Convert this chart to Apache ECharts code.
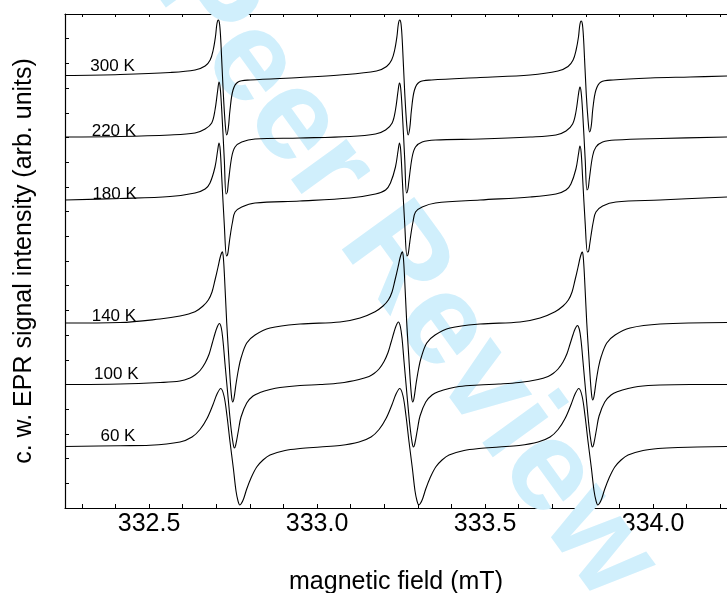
<!DOCTYPE html>
<html><head><meta charset="utf-8">
<script src="https://cdn.jsdelivr.net/npm/echarts@6/dist/echarts.min.js"></script>
<style>html,body{margin:0;padding:0;background:#fff}#c{width:727px;height:593px}</style>
</head><body><div id="c"></div>
<script>
// ---- data (magnetic field in mT, EPR signal in arbitrary units, traces stacked with offsets) ----
const temperatures = ['300 K', '220 K', '180 K', '140 K', '100 K', '60 K'];
const majorTicks = [332.5, 333.0, 333.5, 334.0];
const minorTicks = [332.3,332.4,332.5,332.6,332.7,332.8,332.9,333.0,333.1,333.2,333.3,333.4,333.5,333.6,333.7,333.8,333.9,334.0,334.1,334.2];

const trace300K = [[332.250,432.5],[332.414,433.5],[332.563,435.5],[332.637,438],[332.667,442],[332.682,448],[332.691,458],[332.698,472],[332.702,484],[332.706,488],[332.710,484],[332.714,465],[332.721,415],[332.727,383],[332.731,373],[332.736,380],[332.741,398],[332.750,418],[332.765,426],[332.801,428],[332.949,430.5],[333.068,433],[333.177,437],
 [333.207,441.5],[333.222,448],[333.231,458],[333.238,472],[333.242,484],[333.246,488],[333.250,484],[333.254,465],[333.261,415],[333.267,383],[333.271,373],[333.276,380],[333.281,398],[333.290,418],[333.305,426],[333.341,428],[333.485,430.5],[333.634,433],[333.717,437],
 [333.747,441.5],[333.762,448],[333.771,458],[333.778,471],[333.782,483],[333.786,487],[333.790,483],[333.794,464],[333.801,415],[333.807,386],[333.811,376],[333.816,382],[333.821,400],[333.830,418],[333.845,426],[333.881,428],[333.991,430],[334.110,431],[334.220,432]];

const trace220K = [[332.250,371],[332.414,371.5],[332.5625,373],[332.637,375],[332.667,379],[332.6866,385],[332.6964,398],[332.7045,418],[332.7083,426],[332.7119,420],[332.7164,398],[332.7241,348],[332.7292,314],[332.7330,316],[332.7360,325],[332.7461,351],[332.7560,361],[332.7759,366],[332.8155,369],[332.949,370],[333.098,371.5],
 [333.174,374],[333.204,378],[333.2236,385],[333.2334,398],[333.2415,418],[333.2453,425],[333.2489,420],[333.2534,398],[333.2611,348],[333.2662,315],[333.2700,318],[333.2730,326],[333.2831,351],[333.2930,361],[333.3129,366],[333.3525,368],[333.485,369],[333.634,371],
 [333.711,373],[333.741,377],[333.7606,384],[333.7704,396],[333.7785,415],[333.7823,421],[333.7859,416],[333.7904,396],[333.7981,348],[333.8032,318],[333.8070,320],[333.8100,328],[333.8201,352],[333.8300,361],[333.8499,366],[333.8895,368],[334.021,369.5],[334.220,371]];

const trace180K = [[332.250,308],[332.414,309.5],[332.5625,311.5],[332.637,315],[332.667,319],[332.6815,325],[332.6964,341],[332.7045,358],[332.7083,365],[332.7119,358],[332.7164,331],[332.7241,283],[332.7307,252],[332.7342,254],[332.7372,261],[332.7411,271],[332.7485,286],[332.7560,296],[332.7759,301],[332.8155,305],[332.949,307],[333.098,310],
 [333.174,314],[333.204,318],[333.2185,325],[333.2334,341],[333.2415,358],[333.2453,365],[333.2489,358],[333.2534,331],[333.2611,283],[333.2677,252],[333.2712,254],[333.2742,261],[333.2781,271],[333.2855,286],[333.2930,296],[333.3129,301],[333.3525,305],[333.485,308],[333.634,311],
 [333.711,314],[333.741,318],[333.7555,324],[333.7704,339],[333.7785,355],[333.7823,362],[333.7859,356],[333.7904,330],[333.7981,284],[333.8047,256],[333.8082,257],[333.8112,263],[333.8151,272],[333.8225,287],[333.8300,296],[333.8499,302],[333.8895,306],[334.021,308],[334.220,311]];

const trace140K = [[332.250,185],[332.414,185.5],[332.5327,189],[332.5923,192],[332.6369,196.3],[332.6607,202],[332.6765,208],[332.6875,216],[332.6964,228],[332.7054,241],[332.7113,250],[332.7158,255],[332.7182,256.3],[332.7208,252],[332.7241,235],[332.7313,185],[332.7372,152],[332.7420,126],[332.7461,110],[332.7491,106],[332.7530,110],[332.7589,124],[332.7664,139],[332.7738,150],[332.7908,165],[332.8155,173],[332.8601,180],[332.9494,184],[333.0685,186],
 [333.1280,190],[333.1726,196.3],[333.1964,202],[333.2122,208],[333.2232,216],[333.2321,228],[333.2411,241],[333.2470,250],[333.2515,255],[333.2539,256.3],[333.2565,252],[333.2598,235],[333.2670,185],[333.2729,152],[333.2777,126],[333.2818,110],[333.2848,106],[333.2887,110],[333.2946,124],[333.3021,139],[333.3095,150],[333.3265,165],[333.3512,173],[333.3958,180],[333.4851,184],[333.6042,186],
 [333.6637,190],[333.7083,196.3],[333.7321,202],[333.7479,208],[333.7589,216],[333.7678,228],[333.7768,241],[333.7827,250],[333.7872,255],[333.7896,256],[333.7922,251],[333.7955,234],[333.8027,185],[333.8086,153],[333.8134,128],[333.8175,112],[333.8205,108],[333.8244,112],[333.8303,126],[333.8378,141],[333.8452,151],[333.8622,165],[333.8869,173],[333.9315,180],[334.0208,184],[334.220,185.5]];

const trace100K = [[332.250,123.5],[332.414,124],[332.533,125.5],[332.592,127],[332.622,130],[332.637,133],[332.652,137.5],[332.667,145],[332.679,154],[332.6875,164],[332.6964,174.5],[332.7024,180.5],[332.7092,184.5],[332.7152,180],[332.7202,167],[332.7262,144],[332.7360,108],[332.7440,80],[332.7500,65],[332.7539,60],[332.7580,63],[332.7658,77],[332.7738,91],[332.7908,105],[332.8095,112],[332.8304,115.5],[332.8601,118.5],[332.8899,120.5],[332.9494,122.5],[333.0089,123.5],[333.0685,125],
 [333.1250,128.5],[333.1548,131.5],[333.1696,134.5],[333.1845,139],[333.1994,146.5],[333.2113,155.5],[333.2202,165.5],[333.2292,176],[333.2351,182],[333.2420,186],[333.2479,181.5],[333.2530,169.5],[333.2589,146.5],[333.2688,109],[333.2768,81],[333.2827,66],[333.2866,61],[333.2908,64],[333.2985,78],[333.3065,92],[333.3235,106],[333.3423,113],[333.3631,116.5],[333.3929,119.5],[333.4226,121.5],[333.4821,123],[333.5417,124],[333.6012,125.5],
 [333.6577,128.5],[333.6875,131.5],[333.7024,134.5],[333.7173,139],[333.7321,146],[333.7440,154.5],[333.7530,164],[333.7619,173.5],[333.7679,179],[333.7747,182.5],[333.7807,178.5],[333.7857,167.5],[333.7917,145.5],[333.8015,109],[333.8095,81],[333.8155,66],[333.8193,61],[333.8235,64],[333.8313,78],[333.8393,92],[333.8562,106],[333.8750,113],[333.8958,116.5],[333.9256,119.5],[333.9554,121.5],[334.0208,123],[334.1101,123.5],[334.220,123.5]];

const trace60K = [[332.250,61.5],[332.414,62.3],[332.503,62.8],[332.5923,66],[332.6280,71],[332.6518,78.5],[332.6726,89.5],[332.6905,103.5],[332.7024,114],[332.7134,119.5],[332.7232,112],[332.7321,92],[332.7411,66],[332.7509,40],[332.7589,17],[332.7649,7],[332.7702,3],[332.7747,4.5],[332.7813,9],[332.7908,19],[332.8036,30],[332.8205,41],[332.8393,48],[332.8601,53],[332.9048,57.5],[332.9494,59.5],[333.0089,61],[333.0685,62.5],
 [333.1250,66],[333.1607,71],[333.1845,78.5],[333.2053,89.5],[333.2232,103.5],[333.2351,114],[333.2461,119.5],[333.2559,112],[333.2648,92],[333.2738,66],[333.2836,40],[333.2916,17],[333.2976,7],[333.3029,3],[333.3074,4.5],[333.3140,9],[333.3235,19],[333.3363,30],[333.3532,41],[333.3720,48],[333.3928,53],[333.4375,57.5],[333.4821,59.5],[333.5416,61],[333.6012,62.5],
 [333.6578,66],[333.6935,71],[333.7173,78.5],[333.7381,89.5],[333.7560,103.5],[333.7679,114],[333.7789,119.5],[333.7887,112],[333.7976,92],[333.8066,66],[333.8164,40],[333.8244,17],[333.8304,7],[333.8357,3],[333.8402,4.5],[333.8468,9],[333.8563,19],[333.8691,30],[333.8860,41],[333.9048,48],[333.9256,53],[333.9703,57.5],[334.0149,59.5],[334.0744,60.5],[334.220,61.5]];

// ---- layout / style ----
const FONT = '"Liberation Sans", Arial, Helvetica, sans-serif';
const traces = [trace300K, trace220K, trace180K, trace140K, trace100K, trace60K];
const labelLayout = [
  {field: 332.324, rise: 9.5},
  {field: 332.328, rise: 5.5},
  {field: 332.330, rise: 5.5},
  {field: 332.328, rise: 7},
  {field: 332.335, rise: 10},
  {field: 332.354, rise: 10.5}
];

const chart = echarts.init(document.getElementById('c'), null, {renderer: 'canvas'});

const series = traces.map((d, i) => ({
  type: 'line',
  name: temperatures[i],
  data: d,
  symbol: 'none',
  showSymbol: false,
  smooth: 0.35,
  lineStyle: {color: '#000', width: 1.1},
  animation: false,
  z: 3,
  markPoint: {
    symbol: 'circle',
    symbolSize: 1,
    silent: true,
    animation: false,
    itemStyle: {color: 'rgba(0,0,0,0)'},
    data: [{coord: [labelLayout[i].field, d[0][1] + labelLayout[i].rise]}],
    label: {show: true, position: 'right', distance: 0, formatter: temperatures[i],
            color: '#000', fontSize: 17, fontFamily: FONT}
  }
}));

const axisLineStyle = {color: '#000', width: 1.2};

chart.setOption({
  backgroundColor: '#fff',
  animation: false,
  grid: {left: 65, top: 14, right: 0, bottom: 85, containLabel: false, outerBoundsMode: 'none'},
  graphic: [{
    type: 'text',
    x: 404, y: 274,
    rotation: -54 * Math.PI / 180,
    z: 1,
    silent: true,
    style: {
      text: 'Peer Review',
      fontSize: 130,
      fontWeight: 'bold',
      fontFamily: FONT,
      fill: '#d0effc',
      align: 'center',
      verticalAlign: 'middle'
    }
  }],
  xAxis: [{
    type: 'value', position: 'bottom', min: 332.25, max: 334.22,
    axisLine: {show: true, onZero: false, lineStyle: axisLineStyle},
    axisTick: {show: true, inside: true, length: 4, customValues: minorTicks, lineStyle: {color: '#000', width: 1}},
    axisLabel: {show: true, customValues: majorTicks, formatter: v => v.toFixed(1),
                color: '#000', fontSize: 25, fontFamily: FONT, margin: 4},
    splitLine: {show: false},
    name: 'magnetic field (mT)', nameLocation: 'middle', nameGap: 62,
    nameTextStyle: {color: '#000', fontSize: 25, fontFamily: FONT}
  }, {
    type: 'value', position: 'top', min: 332.25, max: 334.22,
    axisLine: {show: true, onZero: false, lineStyle: axisLineStyle},
    axisTick: {show: true, inside: true, length: 3, customValues: minorTicks, lineStyle: {color: '#000', width: 1}},
    axisLabel: {show: false},
    splitLine: {show: false}
  }],
  yAxis: [{
    type: 'value', min: 0, max: 494, interval: 24.7,
    axisLine: {show: true, onZero: false, lineStyle: axisLineStyle},
    axisTick: {show: true, inside: true, length: 4, lineStyle: {color: '#000', width: 1}},
    axisLabel: {show: false},
    splitLine: {show: false},
    name: 'c. w. EPR signal intensity (arb. units)', nameLocation: 'middle', nameGap: 28,
    nameTextStyle: {color: '#000', fontSize: 25, fontFamily: FONT}
  }],
  series: series
});
</script>
</body></html>
